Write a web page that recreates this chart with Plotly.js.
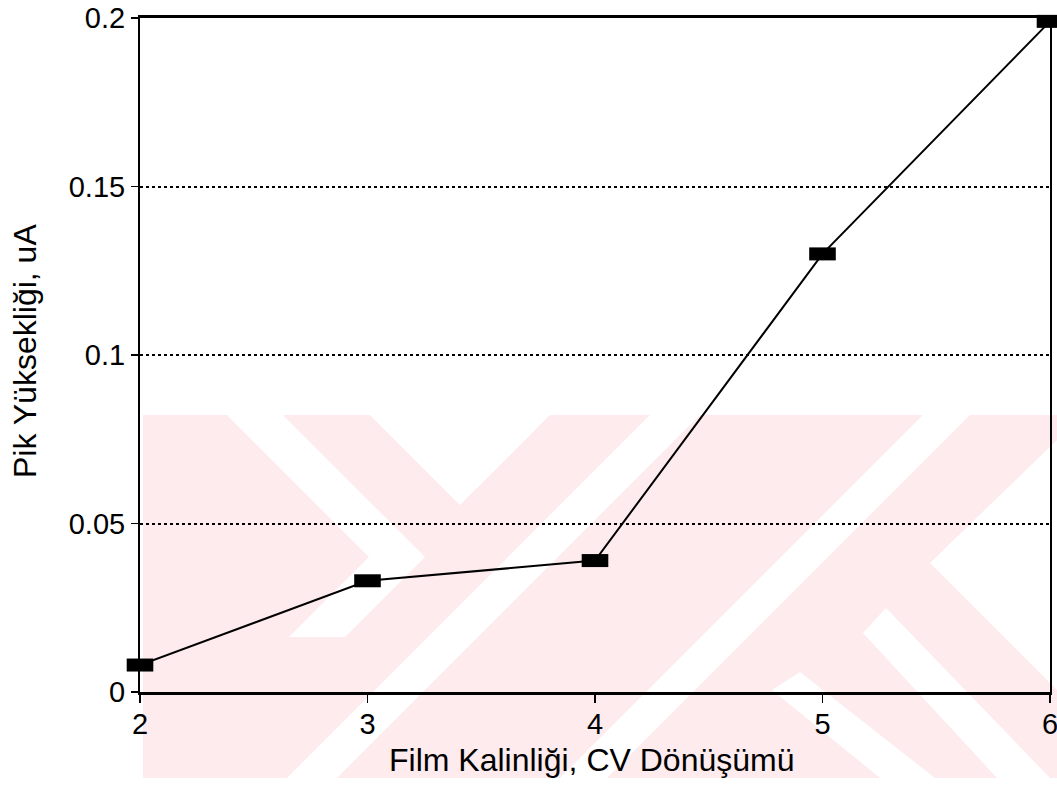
<!DOCTYPE html>
<html><head><meta charset="utf-8">
<script src="https://cdn.plot.ly/plotly-3.0.1.min.js"></script>
<style>html,body{margin:0;padding:0;background:#fff}#chart{width:1057px;height:789px}</style>
</head><body><div id="chart"></div>
<script>
const filmThickness = [2, 3, 4, 5, 6];
const peakHeight = [0.008, 0.033, 0.039, 0.13, 0.199];
const yTicks = [0, 0.05, 0.1, 0.15, 0.2];
const yTickText = ['0', '0.05', '0.1', '0.15', '0.2'];
const xTicks = [2, 3, 4, 5, 6];
const xTitle = 'Film Kalinliği, CV Dönüşümü';
const yTitle = 'Pik Yüksekliği, uA';

// faint background watermark (page pixel space -> paper coords)
const L = 140, R = 1050, T = 18, B = 692;
function px(x){return (x - L)/(R - L);}
function py(y){return (B - y)/(B - T);}
function poly(pts, color){
  return {type:'path', xref:'paper', yref:'paper', layer:'below',
    path:'M' + pts.map(p => px(p[0]).toFixed(4)+','+py(p[1]).toFixed(4)).join(' L') + ' Z',
    fillcolor:color, line:{width:0}};
}
const PINK = '#fdebee', WHITE = '#ffffff';
const wmPink = [[[143,415],[1057,415],[1057,778],[143,778]]];
const wmWhite = [
  [[227,415],[283,415],[425,557],[345,637],[289,637],[369,557]],
  [[370,415],[550,415],[460,505]],
  [[650,415],[700,415],[337,778],[287,778]],
  [[923,415],[970,415],[607,778],[560,778]],
  [[930,563],[1057,440],[1057,690]],
  [[863,633],[886,608],[1050,778],[997,778]],
  [[772,690],[800,672],[935,778],[880,778]]
];
const shapes = wmPink.map(p => poly(p, PINK)).concat(wmWhite.map(p => poly(p, WHITE)));

const trace = {
  x: filmThickness, y: peakHeight, type:'scatter', mode:'lines+markers',
  line:{color:'#000', width:2},
  marker:{symbol:'line-ew', size:19, color:'#000', line:{color:'#000', width:13}},
  cliponaxis:false, showlegend:false
};
const tickFont = {family:'"Liberation Sans", Arial, sans-serif', size:29, color:'#000'};
const titleFont = {family:'"Liberation Sans", Arial, sans-serif', size:32, color:'#000'};
const layout = {
  width:1057, height:789,
  margin:{l:140, r:7, t:18, b:97},
  paper_bgcolor:'#fff', plot_bgcolor:'rgba(0,0,0,0)',
  font: tickFont,
  showlegend:false,
  xaxis:{
    range:[2,6], tickvals:xTicks, ticktext:xTicks.map(String),
    ticks:'outside', ticklen:8, tickwidth:1.5, tickcolor:'#000',
    ticklabelstandoff:-4, ticklabeloverflow:'allow',
    showline:true, linecolor:'#000', linewidth:3, mirror:true,
    showgrid:false, zeroline:false, tickfont:tickFont
  },
  yaxis:{
    range:[0,0.2], tickvals:yTicks, ticktext:yTickText,
    ticks:'outside', ticklen:7, tickwidth:1.5, tickcolor:'#000',
    ticklabeloverflow:'allow',
    showline:true, linecolor:'#000', linewidth:2, mirror:true,
    showgrid:true, gridcolor:'#000', gridwidth:2, griddash:'dot',
    zeroline:false, tickfont:tickFont
  },
  annotations:[
    {text:xTitle, xref:'paper', yref:'paper', x:px(591), y:py(760), xanchor:'center', yanchor:'middle',
     showarrow:false, font:titleFont},
    {text:yTitle, xref:'paper', yref:'paper', x:px(25), y:py(351), xanchor:'center', yanchor:'middle',
     textangle:-90, showarrow:false, font:titleFont}
  ],
  shapes: shapes
};
Plotly.newPlot('chart', [trace], layout, {displayModeBar:false, staticPlot:true});
</script></body></html>
